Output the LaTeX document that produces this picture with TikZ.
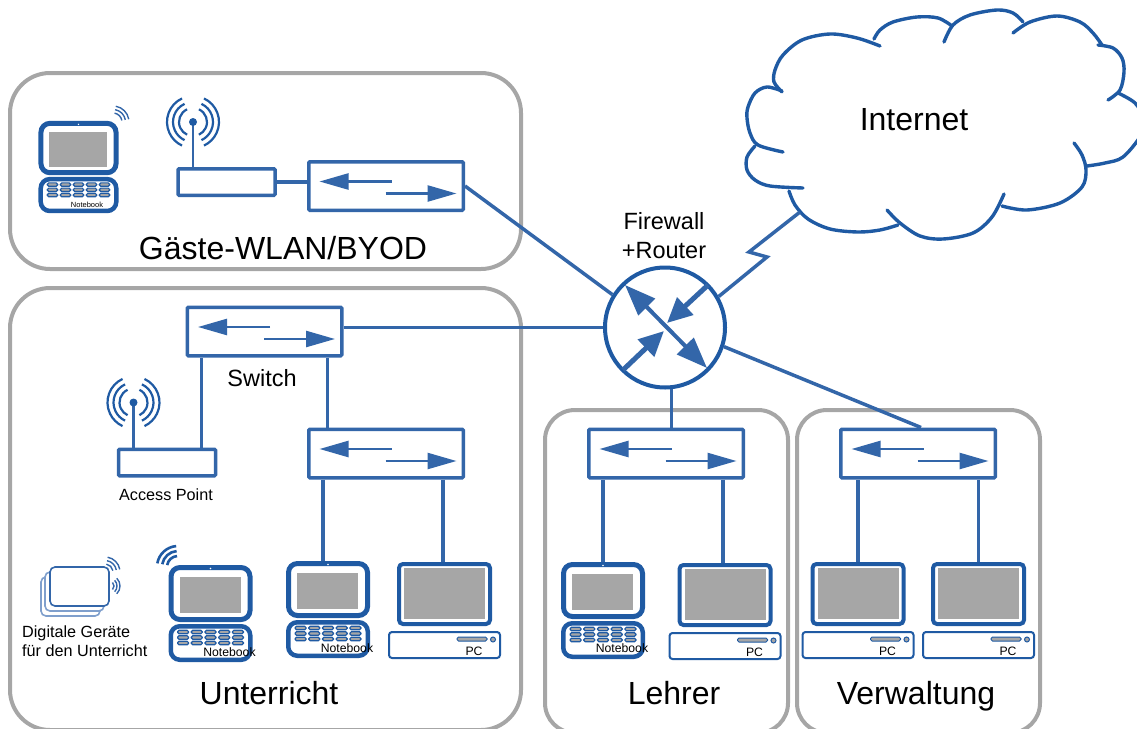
\documentclass[tikz,border=0pt]{standalone}
\usepackage{fontspec}
\setmainfont{Liberation Sans}
\usetikzlibrary{positioning,calc,arrows.meta}
\definecolor{netdark}{HTML}{1F5AA3}
\definecolor{netblue}{HTML}{3366A9}
\definecolor{netlight}{HTML}{7F9FCC}
\definecolor{netgray}{HTML}{A6A6A6}
\newcommand{\fs}[1]{\fontsize{#1}{#1}\selectfont}
\tikzset{
  my group/.style={draw=netgray,line width=4pt,rounded corners=#1,inner sep=0pt},
  my link/.style={draw=netblue,line width=3.5pt},
  my box/.style={draw=netblue,line width=3.5pt,fill=white,rounded corners=1pt,
    inner sep=0pt,minimum width=154.5pt,minimum height=48.5pt},
  my ap box/.style={my box,minimum width=97pt,minimum height=26.5pt},
  my wave/.style={draw=netdark,line width=2.2pt},
  my cloud/.style={draw=netdark,line width=3.4pt,line cap=round,smooth,tension=.55},
  my screen/.style={draw=netdark,fill=white,line width=5pt,rounded corners=9pt,
    inner sep=0pt,minimum width=79pt,minimum height=52pt,transform shape},
  my keyboard/.style={my screen,line width=4.5pt,minimum width=79.5pt,minimum height=33.5pt},
  my monitor/.style={draw=netdark,fill=white,line width=4pt,rounded corners=4pt,
    inner sep=0pt,minimum width=91pt,minimum height=60pt},
  my tower/.style={draw=netdark,fill=white,line width=2pt,rounded corners=3pt,
    inner sep=0pt,minimum width=111pt,minimum height=26pt},
  my panel/.style={fill=netgray,inner sep=0pt,transform shape},
  my device/.style={draw=netlight,fill=white,line width=1.6pt,rounded corners=5pt},
  my big/.style={font=\fs{32},anchor=base},
  my mid/.style={font=\fs{23.5}},
  my small/.style={font=\fs{16.2},align=left},
  my tiny/.style={font=\fs{12.2}},
  my switch/.pic={
    \node[my box] (box) {};
    \draw[netblue,line width=2.5pt,-{Triangle[length=29pt,width=16pt]}] (5.5,-4.5) -- (-66.5,-4.5);
    \draw[netblue,line width=2.5pt,-{Triangle[length=29pt,width=16pt]}] (-0.5,7.5) -- (70.5,7.5);
  },
  my antenna/.pic={
    \node[my ap box] (box) {};
    \coordinate (dot) at (-33.5,-60);
    \draw[netblue,line width=2.5pt] (dot) -- (box.north -| dot);
    \fill[netdark] (dot) circle (4pt);
    \foreach \r in {14,20,26} {
      \draw[my wave] (dot) ++(65:\r pt) arc[start angle=65,end angle=-65,radius=\r pt];
      \draw[my wave] (dot) ++(115:\r pt) arc[start angle=115,end angle=245,radius=\r pt];
    }
  },
  my laptop/.pic={
    \node[my keyboard] (base) at (0,29) {};
    \node[my screen] (screen) at (0,-20.5) {};
    \node[my panel,minimum width=61pt,minimum height=36pt] at (-.5,-19) {};
    \fill[white] (0,-45.5) circle (.8pt);
    \foreach \i in {-2,...,2}
      \foreach \j in {0,1,2}
        \draw[netdark,fill=netgray,line width=1.2pt,rounded corners=1.5pt]
          (\i*13.7-5.5,18+\j*5.5-1.8) rectangle (\i*13.7+5.5,18+\j*5.5+1.8);
  },
  my pc/.pic={
    \fill[netdark] (-6,24) rectangle (6,32);
    \node[my monitor] (screen) at (0,-16) {};
    \node[my panel,minimum width=81pt,minimum height=51pt] at (0,-16.5) {};
    \node[my tower] (base) at (0,35) {};
    \draw[netdark,fill=netgray,line width=1pt,rounded corners=1.5pt] (12.5,27) rectangle (42.5,31);
    \draw[netdark,fill=netgray,line width=1pt] (48.5,29.5) circle (2.5pt);
    \node[my tiny] (label) at (29.5,41.5) {PC};
  }
}
\begin{document}
\begin{tikzpicture}[x=1pt,y=-1pt]
\useasboundingbox (0,0) rectangle (1137,728);
\clip (0,0) rectangle (1137,728);
\node[my group=40pt,minimum width=511pt,minimum height=196pt] (guest) at (265.5,171) {};
\node[my group=40pt,minimum width=511pt,minimum height=442pt] (class) at (265.5,509) {};
\node[my group=30pt,minimum width=243pt,minimum height=323pt] (teach) at (666.5,571.5) {};
\node[my group=30pt,minimum width=243pt,minimum height=323pt] (admin) at (918.5,571.5) {};

\node[my big] (guesttext) at (283,259) {Gäste-WLAN/BYOD};
\node[my big] (classtext) at (269,704) {Unterricht};
\node[my big] (teachtext) at (674,704) {Lehrer};
\node[my big] (admintext) at (916,704) {Verwaltung};
\node[my big] (nettext) at (914,130) {Internet};
\node[my mid,align=center] (fwtext) at (664,235.5) {Firewall\\[5pt]+Router};
\node[my mid] (swtext) at (262,378) {Switch};
\node[my small] (aptext) at (166,495) {Access Point};
\node[my small,anchor=west,inner sep=0pt] (devtext) at (22,641) {Digitale Geräte\\[3pt]für den Unterricht};

\draw[my cloud] plot coordinates {(880,46) (857,38) (830,34) (802,40) (783,55) (775,70) (774,82) (782,92)};
\draw[my cloud] plot coordinates {(782,91) (767,87) (755,93) (748,107) (747,118) (750,133) (758,145) (783,152)};
\draw[my cloud] plot coordinates {(755,146) (747,157) (747,170) (755,180) (770,186) (803,188)};
\draw[my cloud] plot coordinates {(789,191) (795,205) (808,219) (830,229) (858,232) (880,230) (898,225)};
\draw[my cloud] plot coordinates {(887,210) (900,223) (920,236) (943,239) (973,233) (992,217) (1004,194)};
\draw[my cloud] plot coordinates {(1074,143) (1082,155) (1086,170) (1082,187) (1060,203) (1027,210) (1002,206)};
\draw[my cloud] plot coordinates {(1118,93) (1135,103) (1143,118) (1141,135) (1123,157) (1105,163) (1087,166)};
\draw[my cloud] plot coordinates {(1098,45) (1113,48) (1122,58) (1124,72) (1120,90) (1108,100)};
\draw[my cloud] plot coordinates {(1013,33) (1030,22) (1057,16) (1080,22) (1093,33) (1102,45)};
\draw[my cloud] plot coordinates {(944,42) (953,25) (970,15) (997,10) (1013,13) (1023,22)};
\draw[my cloud] plot coordinates {(874,39) (880,30) (893,22) (917,17) (938,18) (952,26)};

\node[draw=netdark,line width=4pt,circle,fill=white,minimum size=120pt,inner sep=0pt] (router) at (665,327.5) {};
\draw[netblue,line width=4pt,{Triangle[length=31pt,width=23pt]}-{Triangle[length=31pt,width=23pt]}] (625,285) -- (707,368);
\draw[netblue,line width=5pt,-{Triangle[length=25pt,width=23pt]}] (708,285) -- (667,323);
\draw[netblue,line width=5pt,-{Triangle[length=25pt,width=23pt]}] (623,370) -- (664,331);

\pic (S0) at (386,186) {my switch};
\pic (S1) at (264.5,331.5) {my switch};
\pic (S2) at (386,453.5) {my switch};
\pic (S3) at (666,453.5) {my switch};
\pic (S4) at (918,453.5) {my switch};
\pic (AP0) at (226.5,182) {my antenna};
\pic (AP1) at (167,462.5) {my antenna};

\pic[scale=.95] (L0) at (78.5,167.5) {my laptop};
\pic (L1) at (210.5,614) {my laptop};
\pic (L2) at (328,610) {my laptop};
\pic (L3) at (603,611) {my laptop};
\pic (P2) at (444.5,610) {my pc};
\pic (P3) at (725,611) {my pc};
\pic (P4) at (858,610) {my pc};
\pic (P5) at (978.5,610) {my pc};
\node[font=\fs{7.5}] (L0text) at (87,205) {Notebook};
\node[my tiny] (L1text) at (229.5,652) {Notebook};
\node[my tiny] (L2text) at (347,648) {Notebook};
\node[my tiny] (L3text) at (622,648) {Notebook};

\coordinate (boltA) at (767,257);
\coordinate (boltB) at (749,252);
\coordinate (netport) at (800,212);
\draw[my link] (S0box.east) -- (router.148);
\draw[my link] (S1box.east |- router.west) -- (router.west);
\draw[my link] (router.30) -- (boltA) -- (boltB) -- (netport);
\draw[my link] (router.-18) -- ($(S4box.north)+(3,0)$);
\draw[my link] (router.-84) -- (router.-84 |- S3box.north);
\draw[my link] (AP0box.east) -- (AP0box.east -| S0box.west);
\draw[my link] ($(S1box.south west)!.1!(S1box.south east)$) coordinate (s1a) -- (s1a |- AP1box.north);
\draw[my link] ($(S1box.south west)!.9!(S1box.south east)$) coordinate (s1b) -- (s1b |- S2box.north);
\draw[my link] ($(S2box.south west)!.1!(S2box.south east)$) coordinate (s2a) -- (s2a |- L2screen.north);
\draw[my link] ($(S2box.south west)!.86!(S2box.south east)$) coordinate (s2b) -- (s2b |- P2screen.north);
\draw[my link] (L3screen.north) -- (L3screen.north |- S3box.south);
\draw[my link] ($(S3box.south west)!.86!(S3box.south east)$) coordinate (s3b) -- (s3b |- P3screen.north);
\draw[my link] (P4screen.north) -- (P4screen.north |- S4box.south);
\draw[my link] (P5screen.north) -- (P5screen.north |- S4box.south);

\draw[my device] (41,577) rectangle (100,616);
\draw[my device] (45,572) rectangle (104,611);
\draw[my device,draw=netblue] (50,567) rectangle (109,606);
\foreach \r in {8,11.5,15}
  \draw[netblue,line width=1.4pt] (105,572) ++(10:\r pt) arc[start angle=10,end angle=80,radius=\r pt];
\foreach \r in {5,8,11}
  \draw[netblue,line width=1.4pt] (109,586) ++(-45:\r pt) arc[start angle=-45,end angle=45,radius=\r pt];
\foreach \r in {9,12.5,16}
  \draw[netblue,line width=1.4pt] (113,122) ++(10:\r pt) arc[start angle=10,end angle=80,radius=\r pt];
\foreach \r in {11,16,21}
  \draw[netdark,line width=2.6pt] (178,567) ++(95:\r pt) arc[start angle=95,end angle=170,radius=\r pt];
\end{tikzpicture}
\end{document}
